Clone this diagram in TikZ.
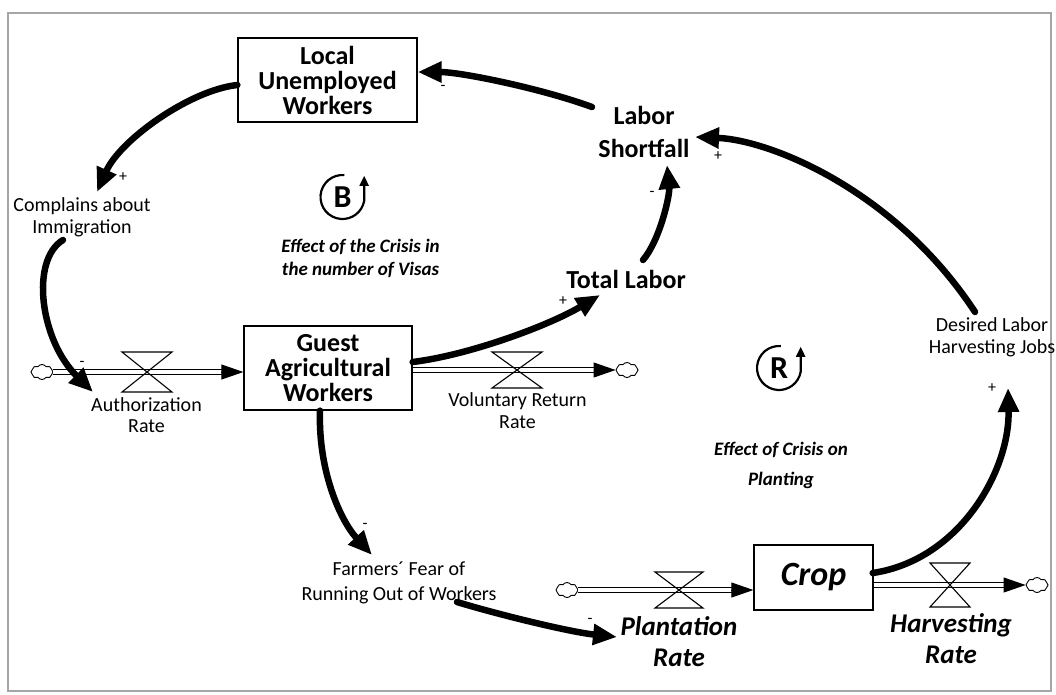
\documentclass[tikz,border=0pt]{standalone}
\usepackage{fontspec}
\setmainfont{Carlito}
\usetikzlibrary{arrows.meta,shapes.symbols,calc}
\begin{document}
\begin{tikzpicture}[x=1pt,y=-1pt,
  stock/.style={draw, line width=1.3pt, inner sep=0pt, align=center, font=\fontsize{26}{25}\selectfont\bfseries},
  var/.style={inner sep=0pt, align=center, font=\fontsize{20}{21.5}\selectfont},
  bigvar/.style={inner sep=0pt, align=center, font=\fontsize{26}{33}\selectfont\bfseries},
  rate/.style={inner sep=0pt, align=center, font=\fontsize{27}{31}\selectfont\bfseries\itshape},
  loopname/.style={inner sep=0pt, align=center, font=\fontsize{19}{23}\selectfont\bfseries\itshape},
  sign/.style={inner sep=0pt, font=\fontsize{16}{16}\selectfont},
  causal/.style={line width=6.5pt, line cap=round, -{Triangle[length=24pt,width=20pt]}},
  pipe/.style={double, double distance=3.2pt, line width=1.1pt, shorten >=20pt},
  flowtip/.style={line width=1pt, -{Triangle[length=22pt,width=15pt]}},
  valve/.style={line width=1.1pt, line join=miter},
  cloudy/.style={cloud, cloud puffs=8, cloud puff arc=110, draw, line width=0.9pt, minimum width=22pt, minimum height=15pt, inner sep=0pt, aspect=1.4},
  loopsym/.style={line width=2.2pt},
  looplet/.style={inner sep=0pt, font=\fontsize{32}{32}\selectfont\bfseries}
]
\useasboundingbox (0,0) rectangle (1056,694);
\draw[gray!70, line width=1.5pt] (8,13) rectangle (1051,691);

% stocks
\node[stock, minimum width=179pt, minimum height=84pt] (LUW) at (327.5,80) {Local\\Unemployed\\Workers};
\node[stock, minimum width=168pt, minimum height=84pt] (GAW) at (328,368) {Guest\\Agricultural\\Workers};
\node[stock, minimum width=119pt, minimum height=65pt, font=\fontsize{34}{34}\selectfont\bfseries\itshape] (Crop) at (813.5,577.5) {Crop};

% variables
\node[bigvar] (LS) at (644,132) {Labor\\Shortfall};
\node[bigvar] (TL) at (626,279) {Total Labor};
\node[var] (CA) at (82,217.5) {Complains about\\Immigration};
\node[var] (AR) at (146.5,415) {Authorization\\Rate};
\node[var] (VR) at (517.5,410.5) {Voluntary Return\\Rate};
\node[var] (DL) at (992,337.5) {Desired Labor\\Harvesting Jobs};
\node[var, font=\fontsize{20}{25}\selectfont] (FF) at (399,582.5) {Farmers´ Fear of\\Running Out of Workers};
\node[rate] (PR) at (679,641.5) {Plantation\\Rate};
\node[rate] (HR) at (951,638.5) {Harvesting\\Rate};
\node[loopname] (EB) at (360.5,258.5) {Effect of the Crisis in\\the number of Visas};
\node[loopname, font=\fontsize{19}{30}\selectfont\bfseries\itshape] (ER) at (781,465) {Effect of Crisis on\\Planting};

% loop symbols
\node[looplet] (Bl) at (342.5,197) {B};
\draw[loopsym, -{Triangle[length=10pt,width=9pt]}] ($(Bl)+(275:22)$) arc[start angle=275, end angle=10, radius=22] -- ++(0,-25);
\node[looplet] (Rl) at (779,368) {R};
\draw[loopsym, -{Triangle[length=10pt,width=9pt]}] ($(Rl)+(275:22)$) arc[start angle=275, end angle=10, radius=22] -- ++(0,-25);

% clouds
\node[cloudy] (c1) at (42,372) {};
\node[cloudy] (c2) at (627,370) {};
\node[cloudy] (c3) at (567,590) {};
\node[cloudy] (c4) at (1037,585) {};

% flows
\draw[pipe] (c1.east) -- (GAW.west |- c1);
\draw[flowtip] ($(GAW.west |- c1)+(-22,0)$) -- (GAW.west |- c1);
\draw[pipe] (GAW.east |- c2) -- (c2.west);
\draw[flowtip] ($(c2.west)+(-22,0)$) -- (c2.west);
\draw[pipe] (c3.east) -- (Crop.west |- c3);
\draw[flowtip] ($(Crop.west |- c3)+(-22,0)$) -- (Crop.west |- c3);
\draw[pipe] (Crop.east |- c4) -- (c4.west);
\draw[flowtip] ($(c4.west)+(-22,0)$) -- (c4.west);

% valves
\coordinate (v1) at (147,372);
\coordinate (v2) at (517,370);
\coordinate (v3) at (679,590);
\coordinate (v4) at (950,585);
\draw[valve] (v1) ++(-25,-20) -- ++(50,0) -- ++(-50,40) -- ++(50,0) -- cycle;
\draw[valve] (v2) ++(-25,-18) -- ++(50,0) -- ++(-50,36) -- ++(50,0) -- cycle;
\draw[valve] (v3) ++(-24,-18) -- ++(48,0) -- ++(-48,36) -- ++(48,0) -- cycle;
\draw[valve] (v4) ++(-20,-22) -- ++(40,0) -- ++(-40,44) -- ++(40,0) -- cycle;

% causal links
\draw[causal] ($(LS)+(-52,-25)$) .. controls (540,88) and (460,72) .. ($(LUW.east)+(0,-8)$);
\draw[causal] ($(LUW.west)+(0,5)$) .. controls (190,90) and (120,140) .. ($(CA)+(15,-25.5)$);
\draw[causal] ($(CA)+(-19,22.5)$) .. controls (30,260) and (40,340) .. ($(AR)+(-53.5,-23)$);
\draw[causal] ($(GAW.east)+(0,-6)$) .. controls (470,355) and (550,325) .. ($(TL)+(-26,16)$);
\draw[causal] ($(TL)+(17,-19)$) .. controls (660,240) and (670,195) .. ($(LS)+(23,33)$);
\draw[causal] ($(DL)+(-17,-25.5)$) .. controls (895,190) and (770,140) .. ($(LS)+(51,5)$);
\draw[causal] ($(Crop.east)+(-1,-4.5)$) .. controls (960,560) and (1010,470) .. ($(DL)+(16,50.5)$);
\draw[causal] ($(GAW.south)+(-8,0)$) .. controls (318,470) and (340,520) .. ($(FF)+(-27,-27.5)$);
\draw[causal] ($(FF)+(58,19.5)$) .. controls (500,615) and (570,632) .. ($(PR)+(-62,-4.5)$);

% polarity signs
\node[sign] (s1) at (123,177) {+};
\node[sign] (s2) at (443,88) {-};
\node[sign] (s3) at (718,156) {+};
\node[sign] (s4) at (652,194) {-};
\node[sign] (s5) at (563,301) {+};
\node[sign] (s6) at (82,364) {-};
\node[sign] (s7) at (992,388) {+};
\node[sign] (s8) at (365,526) {-};
\node[sign] (s9) at (590,621) {-};
\end{tikzpicture}
\end{document}
